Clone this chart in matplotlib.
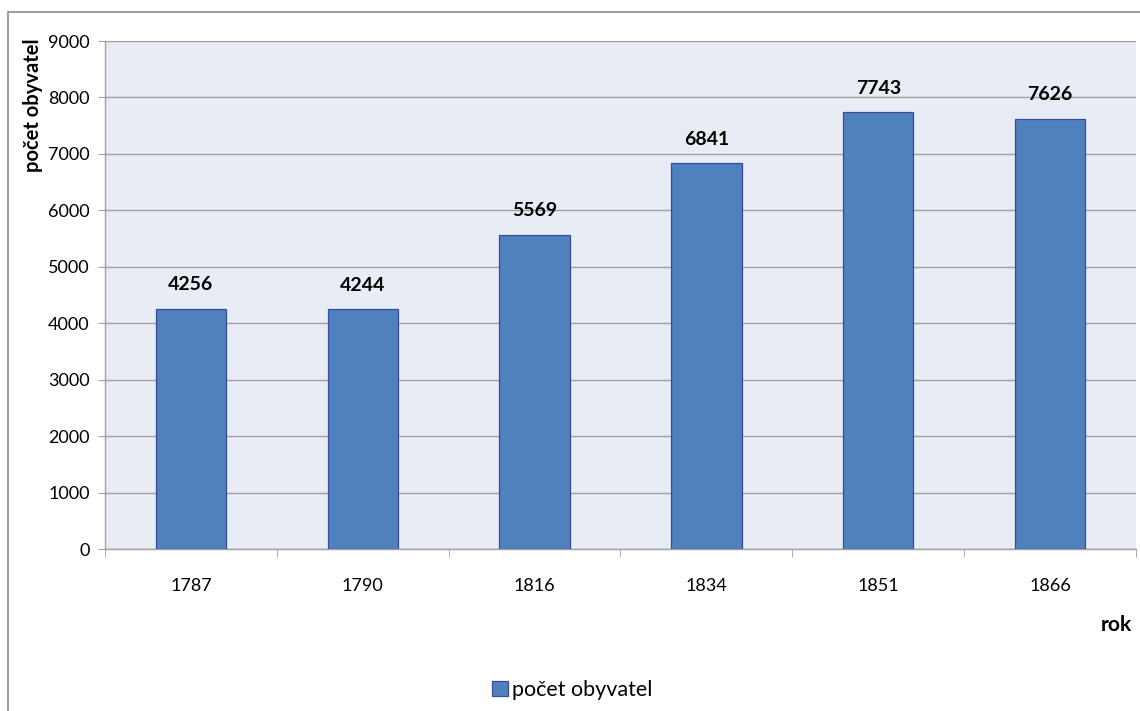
import numpy as np
import matplotlib.pyplot as plt
from matplotlib.patches import Rectangle

years = ["1787", "1790", "1816", "1834", "1851", "1866"]
population = [4256, 4244, 5569, 6841, 7743, 7626]
series_name = "počet obyvatel"

plt.rcParams["font.family"] = ["Lato", "DejaVu Sans"]

W, H = 1140, 711
fig = plt.figure(figsize=(W / 100, H / 100), dpi=100)
ax = fig.add_axes([105 / W, 1 - 549 / H, (1136 - 105) / W, (549 - 41) / H])
ax.set_facecolor("#E8ECF4")

x = np.arange(len(years))
bars = ax.bar(x, population, 0.41, color="#4F81BD", edgecolor="#3A48A0",
              linewidth=0.9, zorder=3, label=series_name)
for b, v in zip(bars, population):
    ax.annotate(f"{v}", (b.get_x() + b.get_width() / 2, v), xytext=(0, 11),
                textcoords="offset points", ha="center", va="bottom",
                fontsize=14, fontweight="bold", color="black")

ax.set_xlim(-0.5, len(years) - 0.5)
ax.set_ylim(0, 9000)
ax.set_yticks(np.arange(0, 9001, 1000))
ax.yaxis.grid(True, color="#A0A0A0", linewidth=1, zorder=0)
ax.set_axisbelow(True)

ax.set_xticks(x)
ax.set_xticklabels(years, fontsize=13)
ax.set_xticks(np.arange(-0.5, len(years)), minor=True)
ax.tick_params(axis="x", which="major", length=0, pad=21)
ax.tick_params(axis="x", which="minor", length=6, color="#A0A0A0")
ax.tick_params(axis="y", length=5, color="#A0A0A0", labelsize=13, pad=6)

for s in ["top", "right"]:
    ax.spines[s].set_visible(False)
for s in ["left", "bottom"]:
    ax.spines[s].set_color("#A0A0A0")
    ax.spines[s].set_linewidth(1)

fig.text(33 / W, 1 - 38 / H, "počet obyvatel", rotation=90, ha="center",
         va="top", fontsize=14.5, fontweight="bold")
fig.text(1116 / W, 1 - 625 / H, "rok", ha="center", va="center",
         fontsize=15, fontweight="bold")

leg = fig.legend(handles=[bars], labels=[series_name], loc="center",
                 bbox_to_anchor=(572 / W, 1 - 690 / H), frameon=False,
                 fontsize=15.5, handlelength=0.75, handleheight=0.75,
                 handletextpad=0.2)

fig.patches.append(Rectangle((8 / W, -0.1), 1.2, 1.1 - 12 / H,
                             transform=fig.transFigure, fill=False,
                             edgecolor="#8C8C8C", linewidth=1.2))

fig.savefig("out.png", dpi=100)
